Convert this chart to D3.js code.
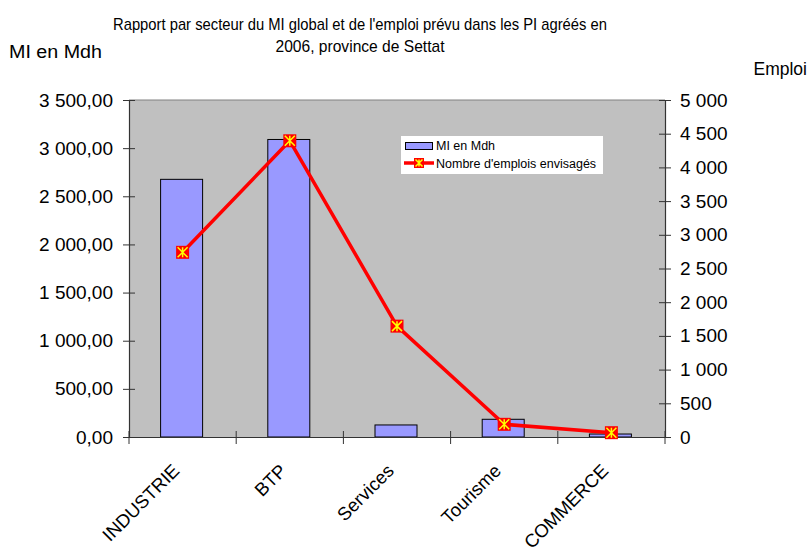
<!DOCTYPE html>
<html><head><meta charset="utf-8">
<script src="https://cdn.jsdelivr.net/npm/d3@7"></script>
<style>body{margin:0;background:#fff;} text{font-family:"Liberation Sans",Arial,sans-serif;fill:#000;}</style>
</head><body>
<svg id="c" width="811" height="550"></svg>
<script>
const categories = ["INDUSTRIE","BTP","Services","Tourisme","COMMERCE"];
const miValues = [2676, 3090, 125, 184, 31];
const emploiValues = [2740, 4395, 1645, 188, 64];
const leftTicks = [0,500,1000,1500,2000,2500,3000,3500];
const rightTicks = [0,500,1000,1500,2000,2500,3000,3500,4000,4500,5000];

const svg = d3.select("#c");
const L = 129, R = 665, T = 100, B = 437;
const x = d3.scaleBand().domain(categories).range([L, R]).paddingInner(0).paddingOuter(0);
const yL = d3.scaleLinear().domain([0,3500]).range([B, T]);
const yR = d3.scaleLinear().domain([0,5000]).range([B, T]);
const frL = d3.formatLocale({decimal:",", thousands:" ", grouping:[3], currency:["",""]});
const fL = v => frL.format(",.2f")(v);
const fR = v => frL.format(",d")(v);

svg.append("rect").attr("x",L).attr("y",T).attr("width",R-L).attr("height",B-T).attr("fill","#C0C0C0");
svg.append("line").attr("x1",L).attr("x2",R).attr("y1",T).attr("y2",T).attr("stroke","#808080");

// bars
const bw = 42;
svg.selectAll(".bar").data(categories).enter().append("rect")
  .attr("x", d => x(d) + x.bandwidth()/2 - bw/2 - 1)
  .attr("y", (d,i) => yL(miValues[i]))
  .attr("width", bw)
  .attr("height", (d,i) => B - yL(miValues[i]))
  .attr("fill","#9999FF").attr("stroke","#000").attr("stroke-width",1);

// axes
const gL = svg.append("g").attr("transform",`translate(${L},0)`)
  .call(d3.axisLeft(yL).tickValues(leftTicks).tickFormat(fL).tickSizeInner(6).tickSizeOuter(0).tickPadding(10));
gL.selectAll(".tick line").attr("x2",6).attr("x1",-6);
const gR = svg.append("g").attr("transform",`translate(${R},0)`)
  .call(d3.axisRight(yR).tickValues(rightTicks).tickFormat(fR).tickSizeInner(6).tickSizeOuter(0).tickPadding(9));
gR.selectAll(".tick line").attr("x1",-6).attr("x2",6);
const gB = svg.append("g").attr("transform",`translate(0,${B})`)
  .call(d3.axisBottom(x).tickSize(0).tickFormat(""));
[gL,gR,gB].forEach(g=>{g.selectAll("path").attr("stroke","#333").attr("stroke-width",1.2);
  g.selectAll("line").attr("stroke","#333");
  g.selectAll("text").style("font-size","19px").attr("fill","#000");});
// category boundary ticks
const bounds = categories.map(d=>x(d)).concat([R]);
gB.selectAll(".bt").data(bounds).enter().append("line")
  .attr("x1",d=>d).attr("x2",d=>d).attr("y1",-6).attr("y2",7).attr("stroke","#333");
// category labels
svg.selectAll(".cl").data(categories).enter().append("text")
  .attr("transform", d => `translate(${x(d)+x.bandwidth()/2-2},${B+35}) rotate(-45)`)
  .attr("text-anchor","end").style("font-size","18.5px").text(d=>d);

// line
const line = d3.line().x((d,i)=>x(categories[i])+x.bandwidth()/2).y(d=>yR(d));
svg.append("path").datum(emploiValues).attr("d",line).attr("fill","none")
  .attr("stroke","#FF0000").attr("stroke-width",3.5).attr("stroke-linejoin","round");

function marker(g, cx, cy, s){
  g.append("rect").attr("x",cx-s/2).attr("y",cy-s/2).attr("width",s).attr("height",s).attr("fill","#FF0000");
  const h = s/2-1.5;
  g.append("path").attr("d",`M${cx-h},${cy-h}L${cx+h},${cy+h}M${cx-h},${cy+h}L${cx+h},${cy-h}M${cx},${cy-h}L${cx},${cy+h}`)
   .attr("stroke","#FFFF00").attr("stroke-width",1.5).attr("fill","none");
}
emploiValues.forEach((v,i)=>marker(svg, x(categories[i])+x.bandwidth()/2, yR(v), 13));

// legend
svg.append("rect").attr("x",401).attr("y",136).attr("width",202).attr("height",38).attr("fill","#fff");
svg.append("rect").attr("x",405.5).attr("y",142.5).attr("width",27).attr("height",7).attr("fill","#9999FF").attr("stroke","#000");
svg.append("text").attr("x",436).attr("y",150).style("font-size","12.5px").text("MI en Mdh");
svg.append("line").attr("x1",404).attr("x2",434).attr("y1",163).attr("y2",163).attr("stroke","#FF0000").attr("stroke-width",3.5);
marker(svg, 419, 163, 10);
svg.append("text").attr("x",436).attr("y",168).style("font-size","12.5px").text("Nombre d'emplois envisagés");

// titles
svg.append("text").attr("x",360).attr("y",30).attr("text-anchor","middle").style("font-size","17px")
  .attr("textLength",494).attr("lengthAdjust","spacingAndGlyphs")
  .text("Rapport par secteur du MI global et de l'emploi prévu dans les PI agréés en");
svg.append("text").attr("x",360).attr("y",52).attr("text-anchor","middle").style("font-size","17px")
  .attr("textLength",169).attr("lengthAdjust","spacingAndGlyphs")
  .text("2006, province de Settat");
svg.append("text").attr("x",9).attr("y",58).style("font-size","18px")
  .attr("textLength",93).attr("lengthAdjust","spacingAndGlyphs").text("MI en Mdh");
svg.append("text").attr("x",807).attr("y",75).attr("text-anchor","end").style("font-size","17.5px").text("Emploi");
</script>
</body></html>
